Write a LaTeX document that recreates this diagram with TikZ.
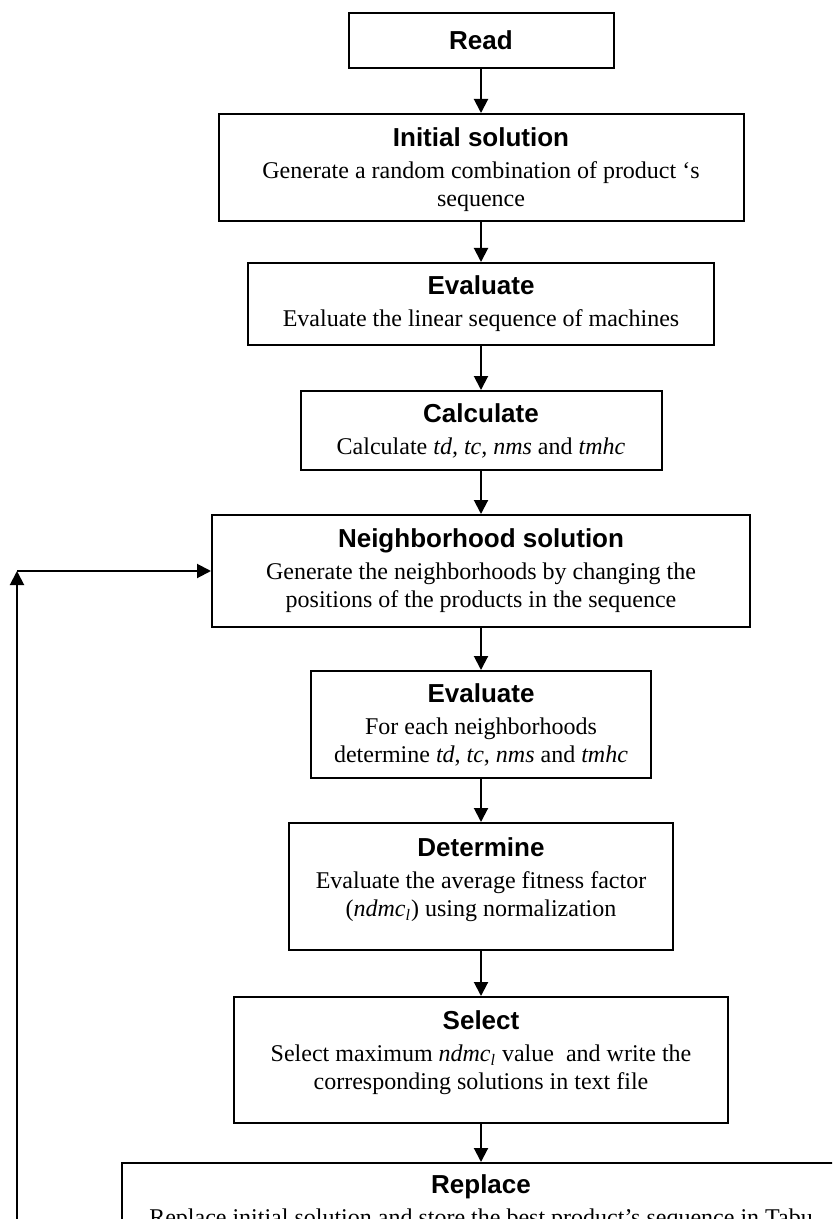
\documentclass[tikz,border=0pt]{standalone}
\usepackage{fontspec}
\setmainfont{Liberation Serif}
\newfontfamily\hfont{Liberation Sans}
\usetikzlibrary{arrows.meta}
\newcommand{\boxtitle}[1]{{\hfont\bfseries\fontsize{13}{14}\selectfont #1}}
\newcommand{\ndmcl}{\textit{ndmc}\textsubscript{\textit{l}}}
\begin{document}
\begin{tikzpicture}[x=0.5pt,y=-0.5pt,
  box/.style={draw, line width=1pt, inner sep=0pt},
  txt/.style={align=center, inner sep=0pt, font=\fontsize{12}{14}\selectfont},
  arr/.style={line width=1pt, -{Triangle[length=7pt,width=7pt]}}]
\path[use as bounding box] (0,0) rectangle (832,1219);
\clip (0,0) rectangle (832,1219);
% boxes
\node[box, minimum width=132.5pt, minimum height=27.5pt] (read) at (481,40.5) {};
\node[box, minimum width=262.5pt, minimum height=53.5pt] (init) at (481,167.5) {};
\node[box, minimum width=233pt, minimum height=41pt] (eval1) at (481,304) {};
\node[box, minimum width=180.5pt, minimum height=39.5pt] (calc) at (481,430.5) {};
\node[box, minimum width=269pt, minimum height=56pt] (neigh) at (481,571) {};
\node[box, minimum width=170pt, minimum height=53.5pt] (eval2) at (481,724.5) {};
\node[box, minimum width=192pt, minimum height=63.5pt] (det) at (481,886.5) {};
\node[box, minimum width=247pt, minimum height=63pt] (sel) at (481,1060) {};
\node[box, minimum width=359pt, minimum height=63.5pt] (repl) at (481,1226.5) {};
% texts
\node[txt] (readT) at (read) {\boxtitle{Read}};
\node[txt] (initT) at (481,170) {\boxtitle{Initial solution}\\[2pt]Generate a random combination of product ‘s\\sequence};
\node[txt] (eval1T) at (eval1) {\boxtitle{Evaluate}\\[2pt]Evaluate the linear sequence of machines};
\node[txt] (calcT) at (calc) {\boxtitle{Calculate}\\[2pt]Calculate \textit{td, tc, nms} and \textit{tmhc}};
\node[txt] (neighT) at (neigh) {\boxtitle{Neighborhood solution}\\[2pt]Generate the neighborhoods by changing the\\positions of the products in the sequence};
\node[txt] (eval2T) at (eval2) {\boxtitle{Evaluate}\\[2pt]For each neighborhoods\\determine \textit{td}, \textit{tc}, \textit{nms} and \textit{tmhc}};
\node[txt] (detT) at (481,880) {\boxtitle{Determine}\\[2pt]Evaluate the average fitness factor\\(\ndmcl) using normalization};
\node[txt] (selT) at (481,1053) {\boxtitle{Select}\\[2pt]Select maximum \ndmcl{} value\ \ and write the\\corresponding solutions in text file};
\node[txt] (replT) at (481,1203) {\boxtitle{Replace}\\[2pt]Replace initial solution and store the best product’s sequence in Tabu};
% connectors
\draw[arr] (read) -- (init);
\draw[arr] (init) -- (eval1);
\draw[arr] (eval1) -- (calc);
\draw[arr] (calc) -- (neigh);
\draw[arr] (neigh) -- (eval2);
\draw[arr] (eval2) -- (det);
\draw[arr] (det) -- (sel);
\draw[arr] (sel) -- (repl);
\coordinate (fbStart) at (17,1400);
\coordinate (fbCorner) at (17,571);
\draw[arr] (fbStart) -- (fbCorner);
\draw[arr] (fbCorner) -- (neigh.west);
\end{tikzpicture}
\end{document}
